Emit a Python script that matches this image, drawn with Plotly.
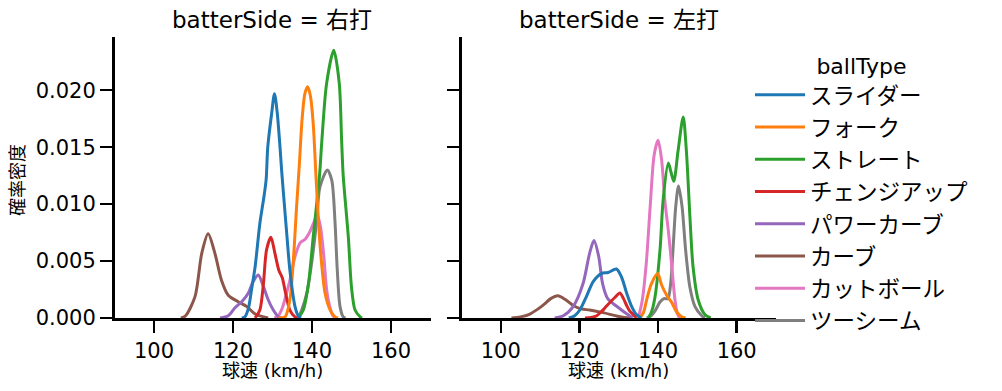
import plotly.graph_objects as go

# ---- data ----
ball_types = ["スライダー", "フォーク", "ストレート", "チェンジアップ", "パワーカーブ", "カーブ", "カットボール", "ツーシーム"]
colors = ["#1f77b4", "#ff7f0e", "#2ca02c", "#d62728", "#9467bd", "#8c564b", "#e377c2", "#7f7f7f"]
sides = ["右打", "左打"]

# 右打 (right-handed batters): speed (km/h) and density
r_slider_x = [122.2, 123.0, 123.9, 124.7, 125.6, 126.8, 127.9, 128.4, 128.8, 129.8, 130.5, 131.2, 131.9, 132.3, 132.9, 133.7, 134.4, 135.7, 136.5, 137.2]
r_slider_y = [0.0, 0.0001, 0.00085, 0.0025, 0.0045, 0.0083, 0.0108, 0.0122, 0.015, 0.018, 0.0197, 0.018, 0.015, 0.013, 0.0104, 0.007, 0.0042, 0.001, 0.0002, 0.0]
r_fork_x = [131.5, 133.2, 134.4, 135.3, 136.1, 136.8, 137.5, 138.2, 138.9, 139.6, 140.3, 141.0, 141.5, 142.2, 143.3, 144.6, 145.8, 146.6]
r_fork_y = [0.0, 0.0001, 0.0016, 0.0052, 0.0098, 0.0135, 0.0175, 0.0197, 0.0203, 0.0195, 0.0171, 0.0125, 0.0093, 0.0057, 0.0022, 0.0007, 0.0001, 0.0]
r_straight_x = [136.5, 137.8, 139.1, 140.3, 141.9, 142.5, 143.7, 145.5, 146.9, 147.5, 147.9, 149.2, 150.0, 150.9, 152.2, 152.7]
r_straight_y = [0.0, 0.0007, 0.003, 0.0071, 0.0125, 0.0156, 0.0206, 0.0235, 0.0206, 0.0156, 0.0125, 0.0071, 0.0027, 0.0007, 0.0001, 0.0]
r_change_x = [125.6, 126.8, 127.7, 128.5, 129.6, 130.6, 131.6, 132.5, 133.3, 134.4, 135.7, 136.5]
r_change_y = [0.0, 0.0007, 0.003, 0.006, 0.00708, 0.0057, 0.0042, 0.0035, 0.0022, 0.0007, 0.0001, 0.0]
r_pcurve_x = [116.7, 118.8, 120.5, 122.2, 123.9, 125.1, 126.4, 127.7, 128.9, 130.2, 131.5, 132.4]
r_pcurve_y = [0.0, 0.0002, 0.0009, 0.00143, 0.0022, 0.0032, 0.00377, 0.00275, 0.0016, 0.0007, 0.0001, 0.0]
r_curve_x = [106.8, 108.0, 110.4, 112.1, 113.7, 115.4, 117.1, 118.8, 121.3, 123.5, 125.6, 128.9]
r_curve_y = [0.0, 0.0002, 0.0019, 0.0057, 0.0074, 0.0057, 0.0033, 0.002, 0.00143, 0.001, 0.00035, 0.0]
r_cutter_x = [130.5, 131.5, 132.5, 133.5, 134.4, 135.7, 137.0, 138.2, 139.5, 140.7, 141.4, 142.2, 143.0, 143.7, 144.5, 145.3, 146.0]
r_cutter_y = [0.0, 0.0002, 0.0009, 0.0021, 0.0033, 0.0054, 0.0066, 0.0069, 0.0076, 0.0086, 0.009, 0.0079, 0.0054, 0.0025, 0.001, 0.0002, 0.0]
r_twoseam_x = [136.5, 137.4, 138.7, 139.9, 141.2, 142.0, 143.9, 145.0, 145.8, 146.4, 147.1, 147.9, 148.5]
r_twoseam_y = [0.0, 0.0007, 0.0022, 0.0048, 0.0086, 0.0115, 0.0130, 0.0121, 0.0086, 0.0042, 0.001, 0.0001, 0.0]

# 左打 (left-handed batters)
l_slider_x = [117.3, 118.8, 120.1, 121.8, 123.5, 125.6, 127.3, 129.4, 130.7, 132.0, 133.3, 134.5, 135.7]
l_slider_y = [0.0, 0.0002, 0.0007, 0.0019, 0.0032, 0.0039, 0.004, 0.0043, 0.0036, 0.0022, 0.001, 0.0003, 0.0]
l_fork_x = [135.4, 136.3, 137.1, 138.3, 139.9, 140.9, 142.2, 143.4, 144.7, 146.0, 147.0]
l_fork_y = [0.0, 0.0005, 0.0016, 0.003, 0.0039, 0.0029, 0.002, 0.0014, 0.00055, 0.0001, 0.0]
l_straight_x = [137.5, 138.3, 139.2, 140.5, 141.3, 142.6, 143.3, 144.0, 145.1, 146.4, 147.2, 148.1, 148.9, 150.2, 151.9, 153.4]
l_straight_y = [0.0, 0.0005, 0.0018, 0.006, 0.0104, 0.0136, 0.0128, 0.012, 0.0147, 0.01766, 0.0147, 0.0089, 0.0045, 0.0016, 0.0003, 0.0]
l_change_x = [121.4, 123.0, 124.4, 125.7, 126.9, 129.0, 130.3, 131.2, 132.0, 132.8, 133.7, 134.5]
l_change_y = [0.0, 0.00005, 0.0002, 0.0006, 0.00105, 0.0018, 0.0022, 0.0017, 0.0011, 0.0006, 0.0003, 0.0]
l_pcurve_x = [113.7, 115.9, 118.4, 120.9, 122.6, 123.7, 124.9, 125.9, 127.2, 129.4, 131.5, 133.5]
l_pcurve_y = [0.0, 0.0002, 0.001, 0.003, 0.0057, 0.0068, 0.0054, 0.003, 0.0017, 0.00105, 0.0005, 0.0]
l_curve_x = [102.7, 105.0, 107.4, 109.5, 111.0, 112.7, 114.5, 116.5, 118.4, 120.5, 122.6, 126.0, 129.4, 131.5, 133.0]
l_curve_y = [0.0, 0.0001, 0.00035, 0.0008, 0.0012, 0.0017, 0.00195, 0.0016, 0.0011, 0.0008, 0.0007, 0.00047, 0.00018, 0.00004, 0.0]
l_cutter_x = [135.0, 136.0, 137.0, 138.0, 139.0, 140.0, 140.9, 141.7, 142.7, 143.5, 144.3, 144.9, 145.5]
l_cutter_y = [0.0, 0.0016, 0.0048, 0.0098, 0.0143, 0.0156, 0.0139, 0.0104, 0.0074, 0.0045, 0.0016, 0.0004, 0.0]
l_twoseam_x = [137.1, 138.2, 139.2, 140.5, 141.5, 142.5, 143.2, 143.8, 144.5, 145.2, 146.1, 147.0, 148.1, 149.4, 151.1, 151.9]
l_twoseam_y = [0.0, 0.0002, 0.0006, 0.0014, 0.0017, 0.0017, 0.003, 0.006, 0.0098, 0.0116, 0.0098, 0.006, 0.0027, 0.001, 0.0002, 0.0]

right_data = [(r_slider_x, r_slider_y), (r_fork_x, r_fork_y), (r_straight_x, r_straight_y), (r_change_x, r_change_y),
              (r_pcurve_x, r_pcurve_y), (r_curve_x, r_curve_y), (r_cutter_x, r_cutter_y), (r_twoseam_x, r_twoseam_y)]
left_data = [(l_slider_x, l_slider_y), (l_fork_x, l_fork_y), (l_straight_x, l_straight_y), (l_change_x, l_change_y),
             (l_pcurve_x, l_pcurve_y), (l_curve_x, l_curve_y), (l_cutter_x, l_cutter_y), (l_twoseam_x, l_twoseam_y)]

x_ticks = [100, 120, 140, 160]
y_ticks = [0.0, 0.005, 0.010, 0.015, 0.020]
y_tick_text = ["0.000", "0.005", "0.010", "0.015", "0.020"]

FONT = "DejaVu Sans, Noto Sans CJK JP"
W, H = 1002, 391

fig = go.Figure()

for panel, data in enumerate([right_data, left_data]):
    xa = "x" if panel == 0 else "x2"
    ya = "y" if panel == 0 else "y2"
    for i in reversed(range(len(ball_types))):
        xs, ys = data[i]
        fig.add_trace(go.Scatter(
            x=xs, y=ys, mode="lines", name=ball_types[i],
            line=dict(color=colors[i], width=3, shape="spline", smoothing=0.8),
            legendgroup=ball_types[i], legendrank=i + 1,
            showlegend=(panel == 0), xaxis=xa, yaxis=ya, hoverinfo="skip"))

ax_common = dict(showgrid=False, zeroline=False, showline=True, linecolor="black", linewidth=2.5,
                 ticks="outside", ticklen=12, tickwidth=2.5, tickcolor="black", automargin=False,
                 tickfont=dict(family=FONT, size=21, color="black"))

y_top = 0.0247
dom_y = [(H - 318) / H, (H - 36.7) / H]
xl_dom = [114.5 / W, 430.5 / W]
xr_dom = [461.5 / W, 776 / W]

def mid(d):
    return (d[0] + d[1]) / 2

fig.update_layout(
    width=W, height=H,
    margin=dict(l=0, r=0, t=0, b=0),
    plot_bgcolor="white", paper_bgcolor="white",
    font=dict(family=FONT, color="black"),
    hovermode=False,
    xaxis=dict(domain=xl_dom, range=[90, 170], tickvals=x_ticks, anchor="y", **ax_common),
    xaxis2=dict(domain=xr_dom, range=[90, 170], tickvals=x_ticks, anchor="y2", **ax_common),
    yaxis=dict(domain=dom_y, range=[0, y_top], tickvals=y_ticks, ticktext=y_tick_text, anchor="x", **ax_common),
    yaxis2=dict(domain=dom_y, range=[0, y_top], tickvals=y_ticks, showticklabels=False, anchor="x2", **ax_common),
    legend=dict(x=750 / W, y=(H - 45) / H, xanchor="left", yanchor="top",
                title=dict(text="ballType", side="top center", font=dict(family=FONT, size=22)),
                font=dict(family=FONT, size=22.5, color="black"),
                bgcolor="rgba(0,0,0,0)", itemwidth=50, tracegroupgap=0),
    annotations=[
        dict(text="batterSide = " + sides[0], x=mid(xl_dom), y=(H - 20) / H, xref="paper", yref="paper",
             showarrow=False, xanchor="center", yanchor="middle", font=dict(family=FONT, size=23)),
        dict(text="batterSide = " + sides[1], x=mid(xr_dom), y=(H - 20) / H, xref="paper", yref="paper",
             showarrow=False, xanchor="center", yanchor="middle", font=dict(family=FONT, size=23)),
        dict(text="球速 (km/h)", x=mid(xl_dom), y=(H - 370) / H, xref="paper", yref="paper",
             showarrow=False, xanchor="center", yanchor="middle", font=dict(family=FONT, size=18)),
        dict(text="球速 (km/h)", x=mid(xr_dom), y=(H - 370) / H, xref="paper", yref="paper",
             showarrow=False, xanchor="center", yanchor="middle", font=dict(family=FONT, size=18)),
        dict(text="確率密度", x=17 / W, y=(H - 180) / H, xref="paper", yref="paper", textangle=-90,
             showarrow=False, xanchor="center", yanchor="middle", font=dict(family=FONT, size=18)),
    ],
)

fig.write_html("out.html", config={"displayModeBar": False, "staticPlot": True},
               post_script="document.body.style.margin='0';document.body.style.overflow='hidden';")
